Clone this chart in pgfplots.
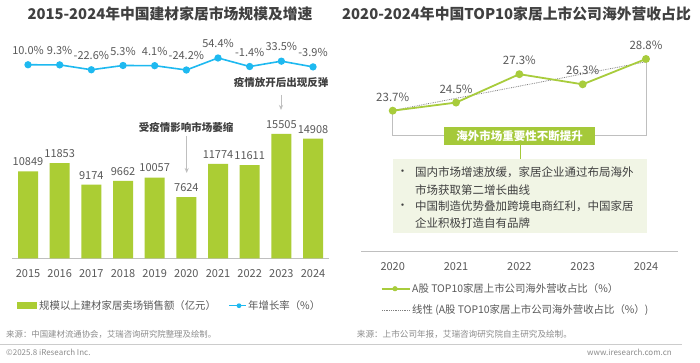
\documentclass[border=0pt]{standalone}
\usepackage{pgfplots}
\pgfplotsset{compat=1.18}
\usepackage{fontspec}
\setmainfont{Noto Sans CJK SC}
\usetikzlibrary{arrows.meta}
\definecolor{bargreen}{HTML}{ABCD34}
\definecolor{cyanl}{HTML}{1EB9F0}
\definecolor{linegreen}{HTML}{A8CC3C}
\definecolor{boxgreen}{HTML}{A5C93A}
\definecolor{boxfill}{HTML}{F1F5E5}
\definecolor{txt}{HTML}{404040}
\definecolor{lbl}{HTML}{595959}
\definecolor{src}{HTML}{8C8C8C}
\definecolor{axisgray}{HTML}{BFBFBF}
\newcommand{\fs}[1]{\fontsize{#1}{#1}\selectfont}
\tikzset{yl/.style={font=\fs{11},text=lbl,inner sep=0pt}}
\begin{document}
\begin{tikzpicture}[x=1pt,y=1pt]
\path[use as bounding box,fill=white] (0,0) rectangle (700,362);
% titles
\node[font=\fs{14.8}\bfseries,text=txt] at (170,348) {2015-2024年中国建材家居市场规模及增速};
\node[font=\fs{14.8}\bfseries,text=txt] at (516.5,348) {2020-2024年中国TOP10家居上市公司海外营收占比};

% ---------- left: bars ----------
\begin{axis}[at={(12.17pt,103.7pt)},anchor=south west,scale only axis,
  width=316.7pt,height=148.4pt,xmin=-0.5,xmax=9.5,ymin=0,ymax=18500,
  axis y line=none,axis x line*=bottom,
  x axis line style={draw=axisgray,line width=1pt,-},
  xtick={0,...,9},xticklabels={},
  major tick length=0pt,
  clip=false]
\addplot[ybar,bar width=20pt,fill=bargreen,draw=none,
  point meta=explicit symbolic,nodes near coords,
  every node near coord/.append style={font=\fs{11},text=lbl,yshift=2pt}]
  coordinates {(0,10849)[10849] (1,11853)[11853] (2,9174)[9174] (3,9662)[9662]
   (4,10057)[10057] (5,7624)[7624] (6,11774)[11774] (7,11611)[11611]
   (8,15505)[15505] (9,14908)[14908]};
\node[yl,yshift=-15.7pt] at (axis cs:0,0) {2015};
\node[yl,yshift=-15.7pt] at (axis cs:1,0) {2016};
\node[yl,yshift=-15.7pt] at (axis cs:2,0) {2017};
\node[yl,yshift=-15.7pt] at (axis cs:3,0) {2018};
\node[yl,yshift=-15.7pt] at (axis cs:4,0) {2019};
\node[yl,yshift=-15.7pt] at (axis cs:5,0) {2020};
\node[yl,yshift=-15.7pt] at (axis cs:6,0) {2021};
\node[yl,yshift=-15.7pt] at (axis cs:7,0) {2022};
\node[yl,yshift=-15.7pt] at (axis cs:8,0) {2023};
\node[yl,yshift=-15.7pt] at (axis cs:9,0) {2024};
\end{axis}

% ---------- left: growth line ----------
\begin{axis}[at={(12.17pt,280.4pt)},anchor=south west,scale only axis,
  width=316.7pt,height=30.6pt,xmin=-0.5,xmax=9.5,ymin=-100,ymax=100,
  hide axis,clip=false]
\addplot[cyanl,line width=1.6pt,mark=*,mark size=2.8pt,
  point meta=explicit symbolic,nodes near coords,
  every node near coord/.append style={font=\fs{11},text=lbl,yshift=6pt}]
  coordinates {(0,10.0)[10.0\%] (1,9.3)[9.3\%] (2,-22.6)[-22.6\%] (3,5.3)[5.3\%]
   (4,4.1)[4.1\%] (5,-24.2)[-24.2\%] (6,54.4)[54.4\%] (7,-1.4)[-1.4\%]
   (8,33.5)[33.5\%] (9,-3.9)[-3.9\%]};
\end{axis}

% left annotations
\node[font=\fs{10.5}\bfseries,text=txt] at (186,235) {受疫情影响市场萎缩};
\draw[axisgray,line width=0.8pt,-{Stealth[length=5pt,width=4pt]}] (186.7,226) -- (186.7,189);
\node[font=\fs{10.5}\bfseries,text=txt] at (281,279) {疫情放开后出现反弹};
\draw[axisgray,line width=0.8pt,-{Stealth[length=5pt,width=4pt]}] (281,267) -- (281,252);

% left legend
\fill[bargreen] (17,52.8) rectangle (37,59.8);
\node[anchor=west,font=\fs{10.4},text=lbl,inner sep=1pt] at (38,56.3) {规模以上建材家居卖场销售额（亿元）};
\draw[cyanl,line width=1.4pt] (229,56.3) -- (246,56.3);
\fill[cyanl] (239,56.3) circle (2.4pt);
\node[anchor=west,font=\fs{10.4},text=lbl,inner sep=1pt] at (247,56.3) {年增长率（\%）};

% ---------- right: decorations ----------
\draw[axisgray,line width=0.9pt] (392.7,251.3) -- (392.7,226.3) -- (646,226.3) -- (646,303);
\fill[boxfill] (392.7,202.7) rectangle (646.7,129.3);
\draw[boxgreen,line width=1pt] (520,217) -- (520,202.7);
\fill[boxgreen] (444,217) rectangle (595,235);
\node[font=\fs{11.5}\bfseries,text=white] at (519.5,226) {海外市场重要性不断提升};
\node[font=\fs{11.5},text=txt] at (402.7,189.3) {•};
\node[font=\fs{11.5},text=txt] at (402.7,155.3) {•};
\node[anchor=west,inner sep=0pt,font=\fs{11.5},text=txt] at (415,189.3) {国内市场增速放缓，家居企业通过布局海外};
\node[anchor=west,inner sep=0pt,font=\fs{11.5},text=txt] at (415,172) {市场获取第二增长曲线};
\node[anchor=west,inner sep=0pt,font=\fs{11.5},text=txt] at (415,155.3) {中国制造优势叠加跨境电商红利，中国家居};
\node[anchor=west,inner sep=0pt,font=\fs{11.5},text=txt] at (415,139.3) {企业积极打造自有品牌};

% ---------- right: line ----------
\begin{axis}[at={(361.05pt,110.3pt)},anchor=south west,scale only axis,
  width=316.6pt,height=204.9pt,xmin=-0.5,xmax=4.5,ymin=9.795,ymax=30,
  axis y line=none,axis x line*=bottom,
  x axis line style={draw=axisgray,line width=1pt,-},
  xtick={0,...,4},xticklabels={},
  major tick length=0pt,
  clip=false]
\addplot[gray,densely dotted,line width=0.8pt] coordinates {(0,23.72) (4,28.52)};
\addplot[linegreen,line width=1.8pt,mark=*,mark size=3pt,
  point meta=explicit symbolic,nodes near coords,
  every node near coord/.append style={font=\fs{11.5},text=lbl,yshift=5pt}]
  coordinates {(0,23.7)[23.7\%] (1,24.5)[24.5\%] (2,27.3)[27.3\%] (3,26.3)[26.3\%] (4,28.8)[28.8\%]};
\node[yl,yshift=-14.5pt] at (axis cs:0,9.795) {2020};
\node[yl,yshift=-14.5pt] at (axis cs:1,9.795) {2021};
\node[yl,yshift=-14.5pt] at (axis cs:2,9.795) {2022};
\node[yl,yshift=-14.5pt] at (axis cs:3,9.795) {2023};
\node[yl,yshift=-14.5pt] at (axis cs:4,9.795) {2024};
\end{axis}

% right legend
\draw[linegreen,line width=1.6pt] (381.7,73.3) -- (410,73.3);
\fill[linegreen] (395,73.3) circle (2.6pt);
\node[anchor=west,font=\fs{10.4},text=lbl,inner sep=1pt] at (411,73.3) {A股 TOP10家居上市公司海外营收占比（\%）};
\draw[gray,densely dotted,line width=0.8pt] (382,52) -- (410,52);
\node[anchor=west,font=\fs{10.4},text=lbl,inner sep=1pt] at (411,52) {线性 (A股 TOP10家居上市公司海外营收占比（\%）)};

% sources & footer
\node[anchor=west,font=\fs{8.4},text=src,inner sep=0pt] at (6,28) {来源：中国建材流通协会，艾瑞咨询研究院整理及绘制。};
\node[anchor=west,font=\fs{8.6},text=src,inner sep=0pt] at (356.7,28) {来源：上市公司年报，艾瑞咨询研究院自主研究及绘制。};
\draw[gray!40,line width=0.6pt] (0,18) -- (682,18);
\node[anchor=west,font=\fs{8},text=src,inner sep=0pt] at (6,10) {©2025.8 iResearch Inc.};
\node[anchor=east,font=\fs{8},text=src,inner sep=0pt] at (672,10) {www.iresearch.com.cn};
\end{tikzpicture}
\end{document}
